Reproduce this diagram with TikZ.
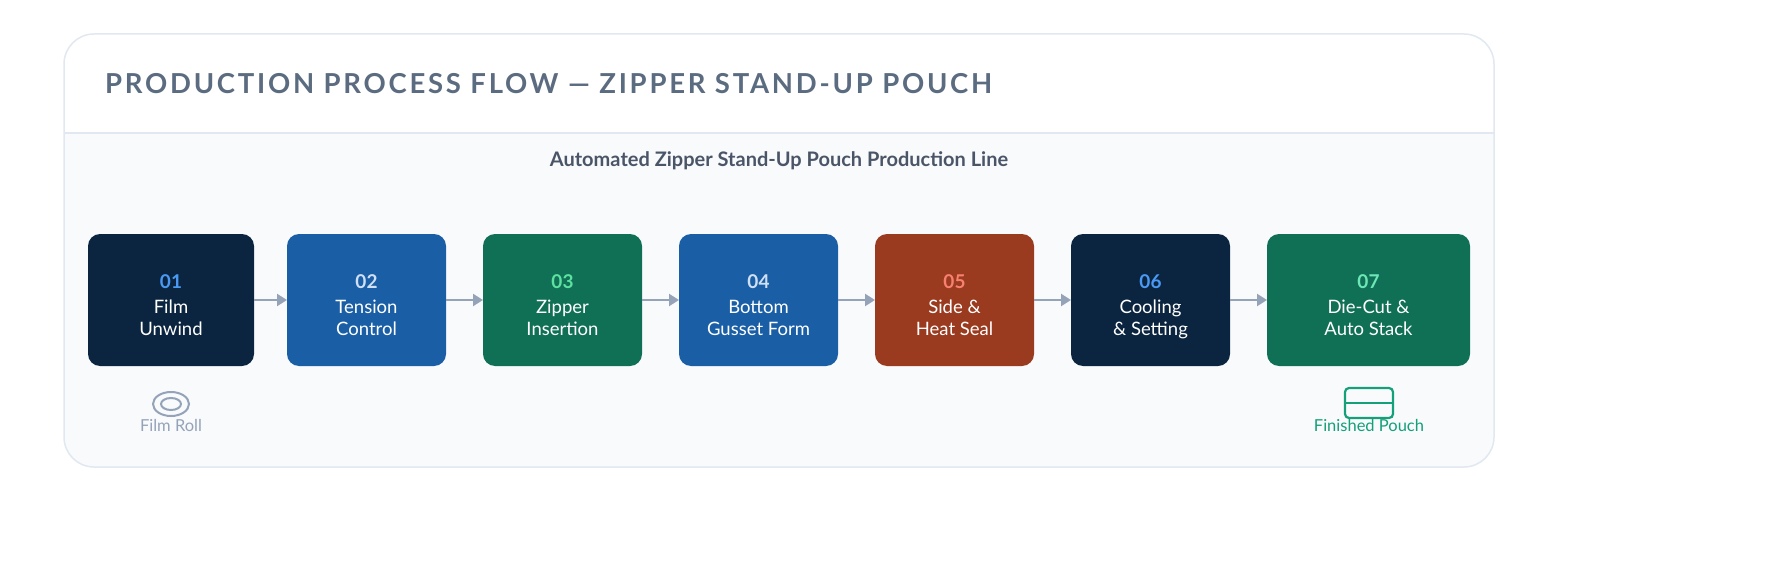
\documentclass[tikz,border=0pt]{standalone}
\usepackage{fontspec}
\setmainfont{Lato}
\usetikzlibrary{arrows.meta}
\definecolor{bord}{HTML}{E2E8F0}
\definecolor{bodybg}{HTML}{F8FAFC}
\definecolor{ttl}{HTML}{5B6B80}
\definecolor{sub}{HTML}{4A5568}
\definecolor{cNavy}{HTML}{0B2540}
\definecolor{cBlue}{HTML}{1A5EA6}
\definecolor{cGreen}{HTML}{107055}
\definecolor{cRust}{HTML}{9A3A1E}
\definecolor{nA}{HTML}{4A9AF5}
\definecolor{nB}{HTML}{CFE0F5}
\definecolor{nC}{HTML}{5EE0A0}
\definecolor{nD}{HTML}{F88070}
\definecolor{nE}{HTML}{6EE7B7}
\definecolor{arr}{HTML}{94A3B8}
\definecolor{pouch}{HTML}{14A078}
\begin{document}
\begin{tikzpicture}[x=1pt,y=-1pt,
  num/.style={font=\bfseries\fontsize{19}{20}\selectfont},
  lbl/.style={text=white,font=\fontsize{18.5}{22}\selectfont,text height=13pt,text depth=4pt,inner sep=0pt},
  conn/.style={draw=arr,line width=2.2pt,-{Triangle[length=10pt,width=12pt]}}]
\useasboundingbox (0,0) rectangle (1770,567);
\fill[white] (0,0) rectangle (1770,567);
% card
\begin{scope}
\clip[rounded corners=30pt] (64,34) rectangle (1494,467);
\fill[white] (64,34) rectangle (1494,133);
\fill[bodybg] (64,133) rectangle (1494,467);
\end{scope}
\draw[bord,line width=1.2pt] (64,133) -- (1494,133);
\draw[bord,line width=1.5pt,rounded corners=30pt] (64,34) rectangle (1494,467);
\node[anchor=west,text=ttl,font=\bfseries\fontsize{27.5}{30}\selectfont,inner sep=0pt] (title) at (105,84) {\addfontfeatures{LetterSpace=10}PRODUCTION PROCESS FLOW — ZIPPER STAND-UP POUCH};
\node[text=sub,font=\bfseries\fontsize{20}{22}\selectfont] (subt) at (779,161) {Automated Zipper Stand-Up Pouch Production Line};
% boxes
\foreach \i/\xa/\xb/\c/\n/\nc/\la/\lb in {
 1/88/254/cNavy/01/nA/Film/Unwind,
 2/287/446/cBlue/02/nB/Tension/Control,
 3/483/642/cGreen/03/nC/Zipper/Insertion,
 4/679/838/cBlue/04/nB/Bottom/Gusset Form,
 5/875/1034/cRust/05/nD/Side \&/Heat Seal,
 6/1071/1230/cNavy/06/nA/Cooling/\& Setting,
 7/1267/1470/cGreen/07/nE/Die-Cut \&/Auto Stack}{
 \fill[\c,rounded corners=12pt] (\xa,234) rectangle (\xb,366);
 \coordinate (l\i) at (\xa,300);
 \coordinate (r\i) at (\xb,300);
 \node[num,text=\nc] (n\i) at ({(\xa+\xb)/2},282) {\n};
 \node[lbl] (ta\i) at ({(\xa+\xb)/2},309) {\la};
 \node[lbl] (tb\i) at ({(\xa+\xb)/2},331) {\lb};
}
\foreach \a/\b in {1/2,2/3,3/4,4/5,5/6,6/7}{
 \draw[conn] (r\a) -- (l\b);
}
% film roll
\draw[arr,line width=2pt] (171,404) ellipse (18pt and 12pt);
\draw[arr,line width=2pt] (171,404) ellipse (10pt and 6pt);
\node[text=arr,font=\fontsize{16.5}{18}\selectfont] (fr) at (171,425) {Film Roll};
% pouch
\draw[pouch,line width=2.2pt,rounded corners=4pt] (1345,388) rectangle (1393,418);
\draw[pouch,line width=2.2pt] (1345,403) -- (1393,403);
\node[text=pouch,font=\fontsize{16.5}{18}\selectfont] (fp) at (1369,425) {Finished Pouch};
\end{tikzpicture}
\end{document}
